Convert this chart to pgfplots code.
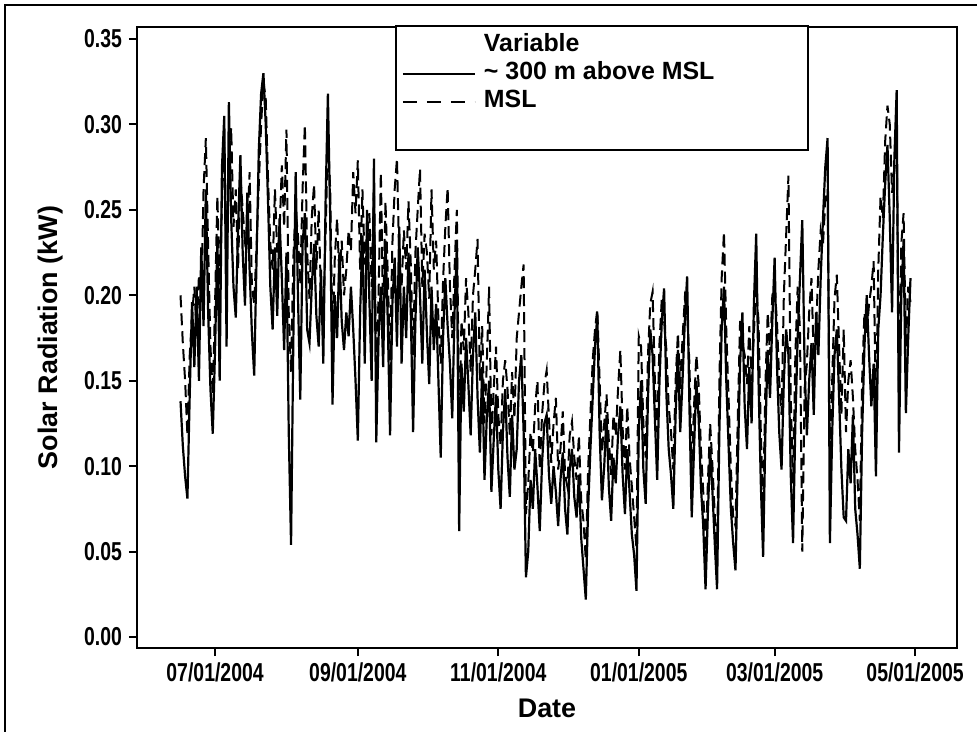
\documentclass[border=0pt]{standalone}
\usepackage{fontspec}
\setmainfont{Liberation Sans}
\newfontfamily\narrowfont[FakeStretch=0.75]{Liberation Sans}
\usepackage{pgfplots}
\usepackage{pgfplotstable}
\pgfplotsset{compat=1.18}

\pgfplotstableread{
day s d
-15 0.138 0.200
-14 0.112 0.172
-13 0.094 0.150
-12 0.081 0.118
-11 0.142 0.165
-10 0.196 0.188
-9 0.158 0.205
-8 0.205 0.178
-7 0.150 0.212
-6 0.228 0.196
-5 0.182 0.262
-4 0.262 0.292
-3 0.190 0.228
-2 0.145 0.170
-1 0.119 0.142
0 0.168 0.195
1 0.232 0.258
2 0.150 0.206
3 0.275 0.255
4 0.305 0.290
5 0.170 0.215
6 0.313 0.280
7 0.245 0.298
8 0.205 0.240
9 0.187 0.262
10 0.240 0.215
11 0.282 0.270
12 0.225 0.250
13 0.194 0.232
14 0.260 0.238
15 0.215 0.272
16 0.178 0.205
17 0.153 0.195
18 0.220 0.228
19 0.285 0.265
20 0.318 0.300
21 0.330 0.325
22 0.300 0.315
23 0.255 0.268
24 0.205 0.230
25 0.180 0.215
26 0.228 0.262
27 0.188 0.225
28 0.245 0.236
29 0.210 0.276
30 0.168 0.240
31 0.225 0.297
32 0.120 0.190
33 0.054 0.155
34 0.175 0.222
35 0.272 0.250
36 0.200 0.235
37 0.139 0.206
38 0.230 0.262
39 0.248 0.300
40 0.180 0.225
41 0.172 0.198
42 0.205 0.246
43 0.230 0.265
44 0.188 0.215
45 0.170 0.250
46 0.215 0.200
47 0.160 0.190
48 0.255 0.236
49 0.318 0.290
50 0.245 0.262
51 0.136 0.175
52 0.200 0.222
53 0.175 0.245
54 0.225 0.210
55 0.185 0.232
56 0.168 0.200
57 0.190 0.215
58 0.176 0.238
59 0.205 0.226
60 0.180 0.272
61 0.150 0.248
62 0.115 0.279
63 0.190 0.215
64 0.235 0.262
65 0.160 0.218
66 0.250 0.235
67 0.198 0.248
68 0.150 0.205
69 0.280 0.262
70 0.114 0.150
71 0.175 0.200
72 0.205 0.272
73 0.158 0.185
74 0.232 0.255
75 0.185 0.212
76 0.118 0.162
77 0.195 0.230
78 0.222 0.262
79 0.170 0.280
80 0.240 0.220
81 0.160 0.205
82 0.205 0.238
83 0.175 0.215
84 0.225 0.255
85 0.190 0.218
86 0.120 0.165
87 0.185 0.225
88 0.228 0.250
89 0.200 0.274
90 0.160 0.205
91 0.215 0.236
92 0.178 0.225
93 0.148 0.198
94 0.205 0.262
95 0.168 0.215
96 0.195 0.232
97 0.150 0.185
98 0.105 0.160
99 0.175 0.208
100 0.210 0.240
101 0.182 0.263
102 0.160 0.205
103 0.128 0.175
104 0.190 0.215
105 0.229 0.250
106 0.062 0.120
107 0.160 0.185
108 0.132 0.168
109 0.175 0.210
110 0.148 0.190
111 0.118 0.155
112 0.165 0.200
113 0.190 0.215
114 0.140 0.233
115 0.108 0.150
116 0.158 0.182
117 0.092 0.125
118 0.128 0.160
119 0.150 0.205
120 0.085 0.118
121 0.115 0.145
122 0.142 0.170
123 0.098 0.130
124 0.075 0.112
125 0.120 0.150
126 0.145 0.162
127 0.105 0.145
128 0.082 0.118
129 0.130 0.155
130 0.098 0.128
131 0.110 0.175
132 0.150 0.190
133 0.165 0.205
134 0.120 0.218
135 0.035 0.072
136 0.050 0.090
137 0.092 0.120
138 0.075 0.108
139 0.110 0.135
140 0.088 0.150
141 0.062 0.098
142 0.102 0.130
143 0.125 0.148
144 0.130 0.156
145 0.095 0.128
146 0.078 0.102
147 0.100 0.125
148 0.085 0.140
149 0.065 0.098
150 0.092 0.110
151 0.108 0.132
152 0.075 0.095
153 0.060 0.088
154 0.098 0.118
155 0.110 0.126
156 0.082 0.105
157 0.070 0.092
158 0.095 0.118
159 0.058 0.080
160 0.040 0.068
161 0.022 0.045
162 0.075 0.098
163 0.110 0.130
164 0.140 0.162
165 0.170 0.180
166 0.188 0.192
167 0.120 0.150
168 0.080 0.108
169 0.100 0.125
170 0.130 0.142
171 0.088 0.115
172 0.068 0.095
173 0.105 0.130
174 0.090 0.118
175 0.118 0.145
176 0.135 0.168
177 0.095 0.122
178 0.072 0.098
179 0.110 0.135
180 0.085 0.105
181 0.060 0.088
182 0.048 0.070
183 0.027 0.052
184 0.120 0.176
185 0.150 0.170
186 0.098 0.125
187 0.078 0.105
188 0.140 0.165
189 0.180 0.195
190 0.165 0.202
191 0.128 0.150
192 0.092 0.120
193 0.150 0.172
194 0.185 0.198
195 0.204 0.185
196 0.142 0.168
197 0.110 0.135
198 0.095 0.120
199 0.075 0.098
200 0.130 0.150
201 0.168 0.178
202 0.120 0.145
203 0.150 0.175
204 0.185 0.198
205 0.211 0.190
206 0.135 0.160
207 0.070 0.098
208 0.110 0.135
209 0.150 0.165
210 0.128 0.148
211 0.088 0.110
212 0.065 0.085
213 0.028 0.050
214 0.072 0.090
215 0.110 0.125
216 0.085 0.100
217 0.055 0.072
218 0.028 0.045
219 0.120 0.150
220 0.180 0.210
221 0.205 0.237
222 0.150 0.180
223 0.112 0.140
224 0.075 0.098
225 0.055 0.070
226 0.039 0.065
227 0.100 0.128
228 0.160 0.185
229 0.190 0.172
230 0.135 0.165
231 0.110 0.148
232 0.158 0.182
233 0.125 0.150
234 0.195 0.178
235 0.236 0.205
236 0.150 0.185
237 0.090 0.120
238 0.047 0.075
239 0.120 0.148
240 0.168 0.190
241 0.140 0.165
242 0.185 0.200
243 0.222 0.205
244 0.160 0.185
245 0.120 0.150
246 0.098 0.130
247 0.150 0.200
248 0.180 0.235
249 0.165 0.270
250 0.095 0.140
251 0.055 0.090
252 0.125 0.165
253 0.175 0.205
254 0.210 0.180
255 0.244 0.050
256 0.160 0.145
257 0.118 0.160
258 0.150 0.190
259 0.172 0.210
260 0.130 0.162
261 0.190 0.180
262 0.165 0.215
263 0.210 0.238
264 0.245 0.230
265 0.275 0.255
266 0.292 0.262
267 0.055 0.110
268 0.120 0.150
269 0.165 0.198
270 0.180 0.212
271 0.140 0.170
272 0.098 0.130
273 0.070 0.180
274 0.068 0.120
275 0.110 0.150
276 0.090 0.162
277 0.130 0.140
278 0.075 0.110
279 0.060 0.092
280 0.040 0.068
281 0.120 0.150
282 0.170 0.190
283 0.200 0.178
284 0.165 0.195
285 0.135 0.205
286 0.160 0.220
287 0.094 0.130
288 0.180 0.215
289 0.200 0.258
290 0.235 0.245
291 0.265 0.290
292 0.288 0.311
293 0.245 0.300
294 0.190 0.260
295 0.280 0.275
296 0.320 0.290
297 0.108 0.150
298 0.200 0.230
299 0.232 0.248
300 0.131 0.170
301 0.175 0.205
302 0.210 0.196
}\solartable

\begin{document}
\begin{tikzpicture}
\begin{axis}[
  scale only axis,
  width=410bp, height=310.5bp,
  xmin=-33.9, xmax=322.2,
  ymin=-0.0064, ymax=0.357,
  xtick={0,62,123,184,243,304},
  xticklabels={07/01/2004,09/01/2004,11/01/2004,01/01/2005,03/01/2005,05/01/2005},
  ytick={0,0.05,0.10,0.15,0.20,0.25,0.30,0.35},
  /pgf/number format/assume math mode=true,
  yticklabel style={/pgf/number format/.cd, fixed, fixed zerofill, precision=2},
  tick label style={font=\fontsize{13}{15}\selectfont\narrowfont\bfseries, black},
  axis line style={line width=1bp, black},
  tick style={line width=1bp, black},
  tick align=outside, major tick length=4bp,
  xtick pos=bottom, ytick pos=left,
  every axis x label/.style={at={(axis description cs:0.5,0)}, anchor=center, yshift=-30bp},
  every axis y label/.style={at={(axis description cs:-0.106,0.5)}, rotate=90, anchor=center},
  label style={font=\fontsize{13.5}{15}\selectfont\bfseries},
  xlabel={Date},
  ylabel={Solar Radiation (kW)},
  legend cell align=left,
  legend style={at={(rel axis cs:0.3146,1.004)}, anchor=north west,
    draw=black, line width=1bp, fill=white,
    inner xsep=3bp, inner ysep=3bp, column sep=3bp,
    font=\fontsize{12.5}{14}\selectfont\bfseries,
    nodes={inner sep=1bp, text height=9bp, text depth=3bp}},
  legend image code/.code={\draw[#1] (0bp,0bp) -- (36bp,0bp);},
  clip=true,
]
\addlegendimage{empty legend}
\addlegendentry{\makebox[158bp][l]{Variable}}
\addlegendimage{black, line width=1bp}
\addlegendentry{\textasciitilde\ 300 m above MSL}
\addlegendimage{black, line width=1bp, dash pattern=on 7bp off 5bp}
\addlegendentry{MSL}
\addlegendimage{empty legend}
\addlegendentry{}

\addplot[black, line width=1bp, dash pattern=on 6bp off 3bp, forget plot] table[x=day, y=d] {\solartable};
\addplot[black, line width=1.1bp, forget plot] table[x=day, y=s] {\solartable};

\coordinate (sw) at (rel axis cs:0,0);
\coordinate (ne) at (rel axis cs:1,1);
\end{axis}
\pgfresetboundingbox
\path[use as bounding box] ([shift={(-68.5bp,-42bp)}]sw) rectangle ([shift={(10bp,13.5bp)}]ne);
\draw[line width=0.6bp] ([shift={(-66bp,-42bp)}]sw) -- ([shift={(-66bp,11bp)}]sw |- ne) -- ([shift={(10bp,11bp)}]ne);
\end{tikzpicture}
\end{document}
